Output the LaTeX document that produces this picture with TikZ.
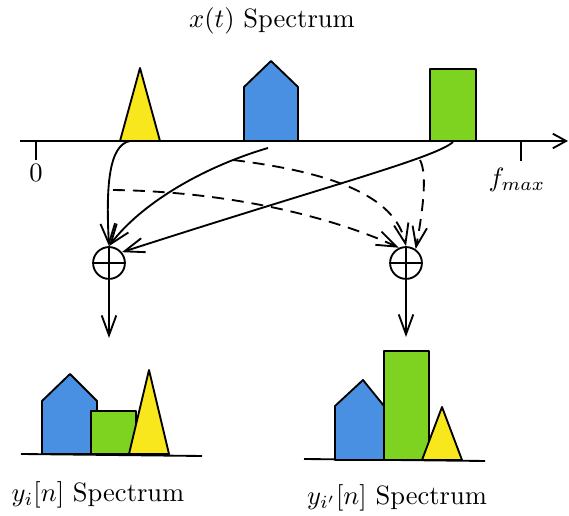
\documentclass[tikz,border=0pt]{standalone}
\usepackage{amsmath}
\usepackage{tikz}
\usetikzlibrary{positioning,arrows.meta,calc}
\definecolor{SpecYellow}{HTML}{F8E71C}
\definecolor{SpecBlue}{HTML}{4A90E2}
\definecolor{SpecGreen}{HTML}{7ED321}

\begin{document}
\begin{tikzpicture}[x=0.377pt, y=-0.377pt, line width=0.7pt,
  adder/.style={draw, circle, minimum size=12pt, inner sep=0pt},
  conn/.style={-{Straight Barb[length=7.5pt,width=5.5pt]}},
  dconn/.style={conn, dash pattern=on 4.5pt off 3pt},
  band/.style={draw=black, line width=0.7pt, line join=round},
  lbl/.style={inner sep=0pt}]
\useasboundingbox (0,0) rectangle (569,516);

% input spectrum
\node[lbl] (title) at (272,21) {$x(t)$ Spectrum};
\draw[-{Straight Barb[length=5pt,width=5.5pt]}] (20,141) -- (568,141);
\draw (36,141) -- (36,160);
\draw (521,141) -- (521,161);
\node[lbl] (zero) at (36,173) {$0$};
\node[lbl] (fmax) at (517,180) {$f_{max}$};
\draw[band, fill=SpecYellow] (120,141) -- (140,68) -- (160,141) -- cycle;
\draw[band, fill=SpecBlue] (244,141) -- (244,87) -- (271,61) -- (298,87) -- (298,141) -- cycle;
\draw[band, fill=SpecGreen] (430,69) rectangle (476,141);

% band taps
\coordinate (yA) at (130,141);
\coordinate (bA) at (268,148);
\coordinate (gA) at (453,142);
\coordinate (yB) at (113,190);
\coordinate (bB) at (233,160);
\coordinate (gB) at (420,160);

% adders
\node[adder] (sumL) at (109,263) {};
\node[adder] (sumR) at (406,263) {};
\draw (sumL.north) -- (sumL.south) (sumL.west) -- (sumL.east);
\draw (sumR.north) -- (sumR.south) (sumR.west) -- (sumR.east);
\coordinate (outL) at (109,338);
\coordinate (outR) at (406,337);

\draw[conn] (yA) .. controls (108,145) and (106,190) .. (sumL.north);
\draw[conn] (bA) .. controls (200,168) and (140,205) .. (sumL.north);
\draw[conn] (gA) .. controls (435,158) and (330,185) .. (sumL.40);
\draw[dconn] (bB) .. controls (330,172) and (395,195) .. (sumR.north);
\draw[dconn] (yB) .. controls (250,192) and (350,225) .. (sumR.115);
\draw[dconn] (gB) .. controls (428,175) and (422,215) .. (sumR.55);
\draw[conn] (sumL.south) -- (outL);
\draw[conn] (sumR.south) -- (outR);

% output spectra
\draw (21,454) -- (202,456);
\draw[band, fill=SpecBlue] (42,454) -- (42,401) -- (70,374) -- (97,401) -- (97,454) -- cycle;
\draw[band, fill=SpecGreen] (91,411) rectangle (136,454);
\draw[band, fill=SpecYellow] (129,454) -- (149,370) -- (169,454) -- cycle;
\node[lbl] (outLtxt) at (98,495) {$y_i[n]$ Spectrum};

\draw (304,459) -- (485,461);
\draw[band, fill=SpecBlue] (335,460) -- (335,406) -- (363,380) -- (384,406) -- (384,460) -- cycle;
\draw[band, fill=SpecGreen] (384,351) rectangle (429,460);
\draw[band, fill=SpecYellow] (422,460) -- (442,407) -- (462,460) -- cycle;
\node[lbl] (outRtxt) at (397,498) {$y_{i'}[n]$ Spectrum};
\end{tikzpicture}
\end{document}
